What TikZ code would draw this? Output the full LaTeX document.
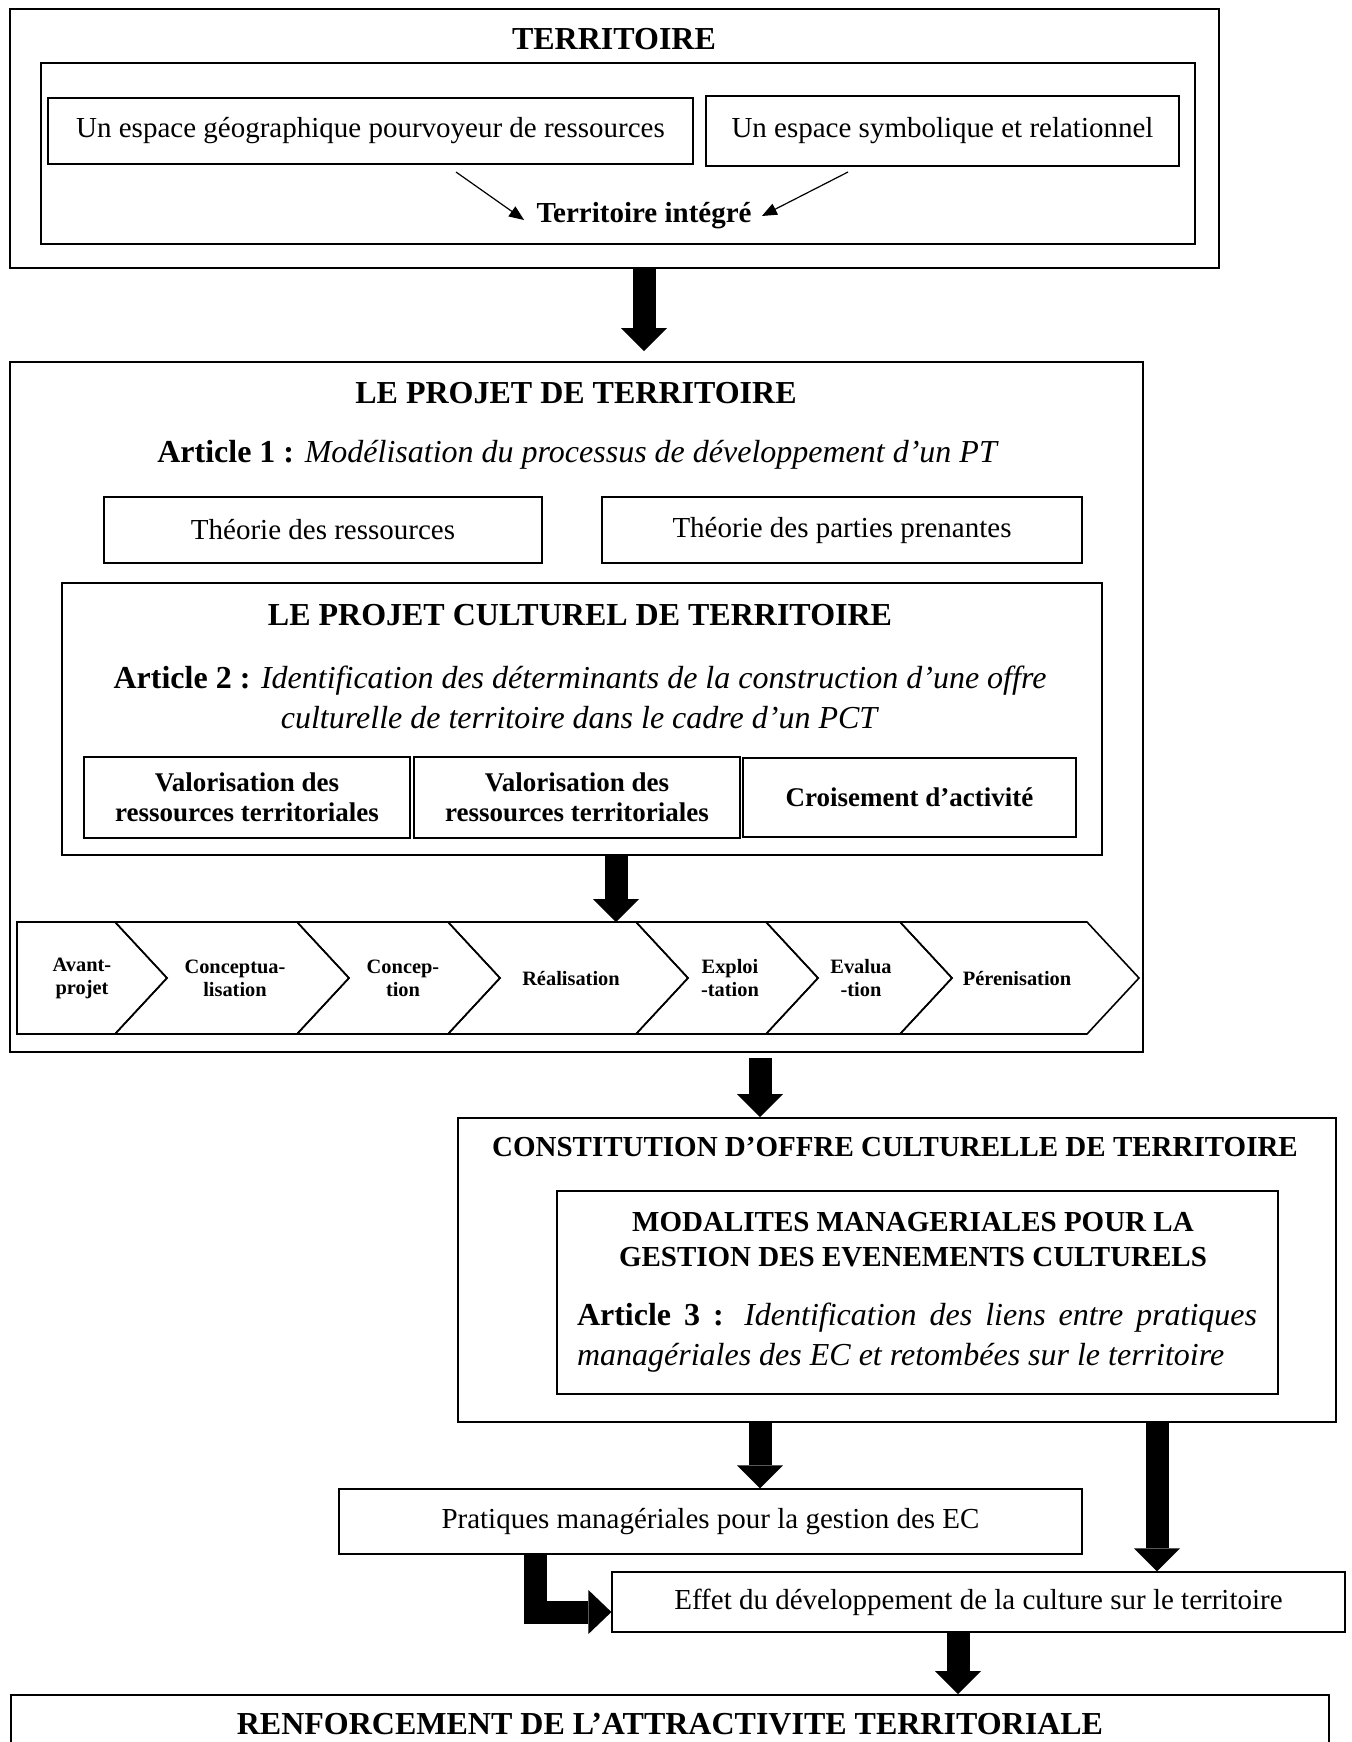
\documentclass[tikz,border=0pt]{standalone}
\usepackage{fontspec}
\setmainfont{Liberation Serif}
\usetikzlibrary{arrows.meta}
\usetikzlibrary{fit}
\usetikzlibrary{calc}

\begin{document}
\begin{tikzpicture}[x=0.5pt, y=-0.5pt,
  box/.style={draw, thick, inner sep=0pt, align=center},
  petit/.style={draw, semithick, inner sep=0pt, align=center, font=\fontsize{14.5}{17}\selectfont},
  valo/.style={draw, semithick, inner sep=0pt, align=center, font=\fontsize{13.5}{15}\selectfont\bfseries},
  titre/.style={inner sep=0pt, font=\fontsize{16}{19}\selectfont\bfseries},
  soustitre/.style={inner sep=0pt, align=center, font=\fontsize{14.5}{17.5}\selectfont\bfseries},
  article/.style={inner sep=0pt, align=center, font=\fontsize{16}{20}\selectfont},
  etape/.style={inner sep=0pt, align=center, font=\fontsize{10.2}{11.5}\selectfont\bfseries},
  fleche/.style={line width=11.5pt, -{Triangle[length=11.5pt, width=23pt, line width=0pt]}},
  pointe/.style={semithick, -{Triangle[length=7.5pt, width=6pt]}}]
\fill[white] (0,0) rectangle (1351,1742);
\useasboundingbox (0,0) rectangle (1351,1742);

% territoire
\node[box, fit={(10,9) (1219,268)}] (terr) {};
\node[titre] (terrt) at (614,39) {TERRITOIRE};
\node[box, very thick, fit={(41,63) (1195,244)}] (terrin) {};
\node[petit, minimum width=322.5pt, minimum height=33pt] (geo) at (370.5,131) {Un espace géographique pourvoyeur de ressources};
\node[petit, minimum width=236.5pt, minimum height=35pt] (sym) at (942.5,131) {Un espace symbolique et relationnel};
\node[inner sep=0pt, font=\fontsize{14.5}{17}\selectfont\bfseries] (integ) at (644,216) {Territoire intégré};
\coordinate (g1) at (456,172);
\coordinate (g2) at (848,172);
\draw[pointe] (g1) -- ($(integ.west)+(-12,4)$);
\draw[pointe] (g2) -- ($(integ.east)+(10,0)$);

% projet de territoire
\node[box, fit={(10,362) (1143,1052)}] (ptbox) {};
\node[titre] (ptt) at (576,393) {LE PROJET DE TERRITOIRE};
\node[article] (art1) at (578,455) {\textbf{Article 1 :} \textit{Modélisation du processus de développement d’un PT}};
\node[petit, minimum width=219pt, minimum height=33pt] (th1) at (323,530) {Théorie des ressources};
\node[petit, minimum width=240pt, minimum height=33pt] (th2) at (842,530) {Théorie des parties prenantes};
\node[box, fit={(62,583) (1102,855)}] (pct) {};
\node[titre] (pctt) at (580,615) {LE PROJET CULTUREL DE TERRITOIRE};
\node[article] (art2) at (580,697) {\textbf{Article 2 :} \textit{Identification des déterminants de la construction d’une offre}\\\textit{culturelle de territoire dans le cadre d’un PCT}};
\node[valo, minimum width=163pt, minimum height=40.5pt] (v1) at (247,797.5) {Valorisation des\\ressources territoriales};
\node[valo, minimum width=163pt, minimum height=40.5pt] (v2) at (577,797.5) {Valorisation des\\ressources territoriales};
\node[valo, minimum width=166.5pt, minimum height=39.5pt] (cr) at (909.5,797.5) {Croisement d’activité};

% frise des etapes
\draw[thick] (17,922) -- (115,922) -- (167,978) -- (115,1034) -- (17,1034) -- cycle;
\foreach \a/\b in {115/297, 297/448, 448/636, 636/766, 766/900, 900/1087}
  \draw[thick] (\a,922) -- (\b,922) -- (\b+52,978) -- (\b,1034) -- (\a,1034) -- (\a+52,978) -- cycle;
\foreach \x/\t [count=\i] in {82/{Avant-\\projet}, 235/{Conceptua-\\lisation}, 403/{Concep-\\tion}, 571/{Réalisation}, 730/{Exploi\\-tation}, 861/{Evalua\\-tion}, 1017/{Pérenisation}}
  \node[etape] (etape\i) at (\x,978) {\t};

% offre culturelle
\node[box, fit={(458,1118) (1336,1422)}] (cobox) {};
\node[soustitre] (cot) at (895,1147) {CONSTITUTION D’OFFRE CULTURELLE DE TERRITOIRE};
\node[box, fit={(557,1191) (1278,1394)}] (mod) {};
\node[soustitre] (modt) at (913,1240) {MODALITES MANAGERIALES POUR LA\\GESTION DES EVENEMENTS CULTURELS};
\node[article, align=justify, text width=340pt] (art3) at (917,1338) {\textbf{Article 3 :} \textit{Identification des liens entre pratiques\linebreak managériales des EC et retombées sur le territoire}};

\node[petit, minimum width=371.5pt, minimum height=32.5pt] (prat) at (710.5,1521.5) {Pratiques managériales pour la gestion des EC};
\node[petit, minimum width=366.5pt, minimum height=30pt] (eff) at (978.5,1602) {Effet du développement de la culture sur le territoire};
\node[box, fit={(11,1695) (1329,1800)}] (ren) {};
\node[titre] (rent) at (670,1724) {RENFORCEMENT DE L’ATTRACTIVITE TERRITORIALE};

% grosses fleches
\coordinate (x1) at (644,0);
\coordinate (x3) at (760,0);
\coordinate (x5) at (1157,0);
\coordinate (x6) at (958,0);
\coordinate (x7) at (535.5,0);
\coordinate (frise) at (616,922);
\draw[fleche] (terr.south -| x1) -- ($(ptbox.north -| x1)+(0,-10)$);
\draw[fleche] (pct.south -| frise) -- (frise);
\draw[fleche] ($(ptbox.south -| x3)+(0,5)$) -- (cobox.north -| x3);
\draw[fleche] (cobox.south -| x3) -- (prat.north -| x3);
\draw[fleche] (cobox.south -| x5) -- (eff.north -| x5);
\draw[fleche, -{Triangle[length=11.5pt, width=22pt, line width=0pt]}] (prat.south -| x7) |- ($(eff.west)+(0,10)$);
\draw[fleche] (eff.south -| x6) -- (ren.north -| x6);
\end{tikzpicture}
\end{document}
